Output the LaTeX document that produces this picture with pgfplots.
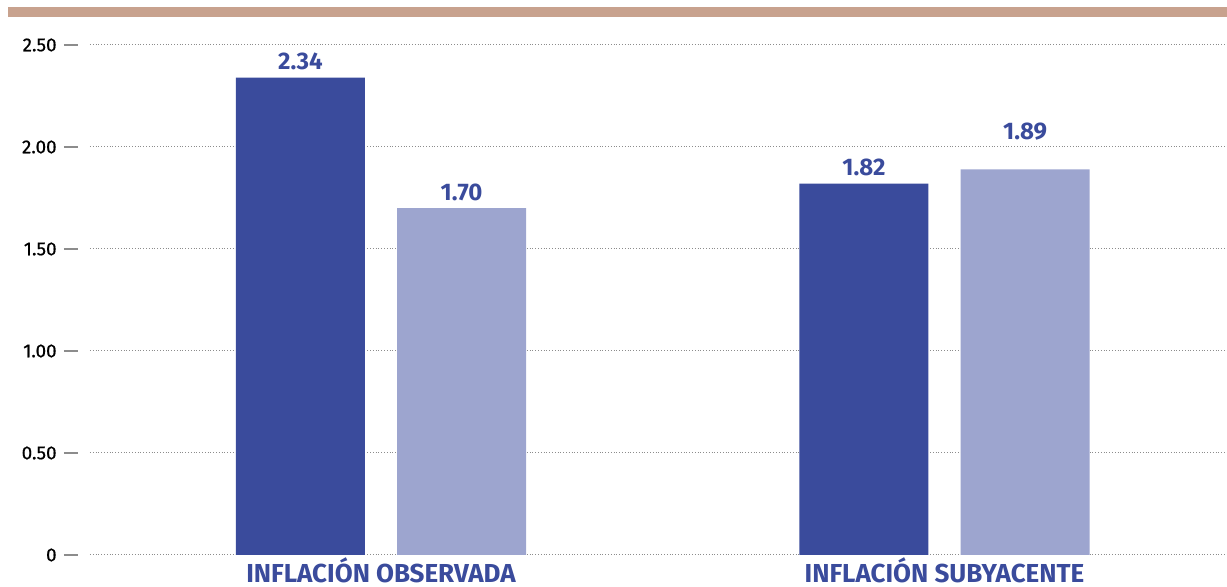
\documentclass[border=0pt]{standalone}
\usepackage{pgfplots}
\pgfplotsset{compat=1.18}
\usepackage{fontspec}
\setmainfont{Fira Sans}
\newfontfamily\tickfont[FakeBold=0.6]{Fira Sans}

\definecolor{darkbar}{RGB}{58,75,156}
\definecolor{lightbar}{RGB}{157,165,207}
\definecolor{stripe}{RGB}{200,162,142}
\definecolor{gridgray}{RGB}{140,140,140}

\begin{document}
\begin{tikzpicture}
  % canvas: 1px = 0.5pt
  \useasboundingbox (0,0) rectangle (613.5pt,293.5pt);
  \fill[stripe] (4pt,285pt) rectangle (613.5pt,290pt);
  \begin{axis}[
    at={(45pt,16pt)}, anchor=south west,
    scale only axis, width=568.5pt, height=255pt,
    ybar, bar width=0.229,
    xmin=-0.5164, xmax=1.5013, ymin=0, ymax=2.5,
    axis line style={draw=none},
    xtick={0,1},
    xticklabels={INFLACIÓN OBSERVADA, INFLACIÓN SUBYACENTE},
    x tick style={draw=none},
    xticklabel style={font=\fontsize{13}{13}\selectfont\bfseries, text=darkbar, inner sep=0pt, yshift=6pt},
    ytick={0,0.5,1,1.5,2,2.5},
    yticklabels={0,0.50,1.00,1.50,2.00,2.50},
    ytick pos=left,
    yticklabel style={font=\fontsize{9.4}{10}\tickfont, inner sep=0pt, xshift=-9.5pt},
    tick align=outside, major tick length=7pt,
    y tick style={gridgray, line width=0.75pt, xshift=-6pt},
    ymajorgrids, grid style={densely dotted, gridgray, line width=0.5pt},
    nodes near coords,
    /pgf/number format/fixed,
    /pgf/number format/fixed zerofill,
    /pgf/number format/precision=2,
    /pgf/number format/assume math mode=true,
    nodes near coords style={font=\fontsize{12}{12}\selectfont\bfseries, text=darkbar, inner sep=3.6pt},
  ]
    % Inflación observada / subyacente, first series
    \addplot[fill=darkbar, draw=none, bar shift=-0.143] coordinates {(0,2.34) (1,1.82)};
    % second series; its label over the second group sits higher
    \addplot[fill=lightbar, draw=none, bar shift=0.143,
      visualization depends on={x \as \rx},
      every node near coord/.append style={yshift={11*(\rx>0.5)}}]
      coordinates {(0,1.70) (1,1.89)};
  \end{axis}
\end{tikzpicture}
\end{document}
